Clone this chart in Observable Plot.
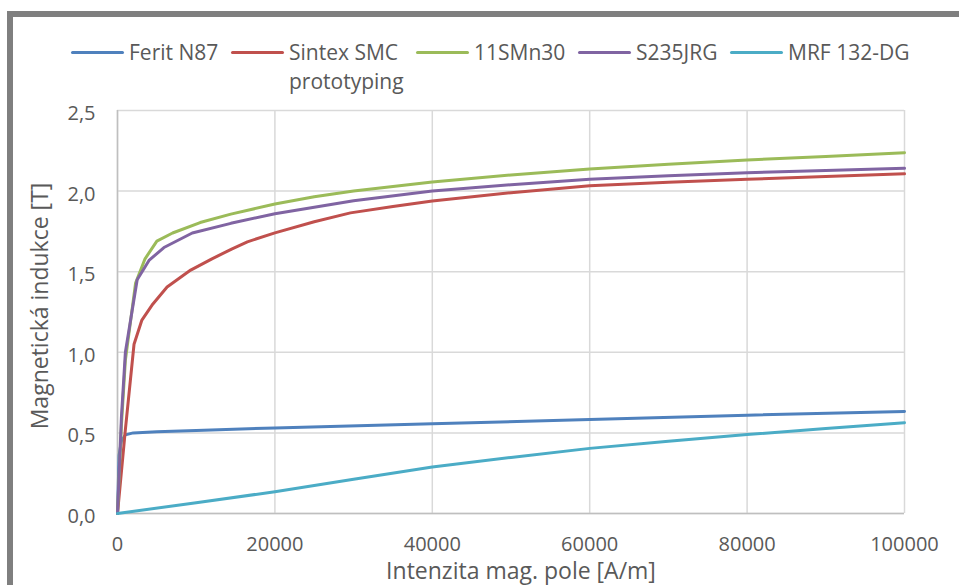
<!DOCTYPE html>
<html>
<head>
<meta charset="utf-8">
<script src="https://cdn.jsdelivr.net/npm/d3@7"></script>
<script src="https://cdn.jsdelivr.net/npm/@observablehq/plot@0.6"></script>
<style>
  html, body { margin: 0; padding: 0; background: #fff; }
  body { width: 959px; height: 585px; overflow: hidden; position: relative; font-family: "Open Sans", sans-serif; }
  #frame { position: absolute; left: 7px; top: 11px; width: 1100px; height: 800px; border: 6px solid #7f7f7f; box-sizing: border-box; }
  #chart { position: absolute; left: 0; top: 0; }
  #chart g[aria-label$="tick label"] { font-size: 20px; }
  #legend { position: absolute; left: 71px; top: 38px; display: flex; gap: 12px; align-items: flex-start; }
  .item { display: flex; align-items: flex-start; }
  .sw { width: 53px; height: 3px; border-radius: 2px; margin-top: 13px; margin-right: 5px; flex: none; }
  .lab { font-size: 21px; line-height: 29px; color: #595959; max-width: 130px; }
</style>
</head>
<body>
<div id="frame"></div>
<div id="chart"></div>
<div id="legend"></div>
<script>
// ---- data ----
const seriesNames = ["Ferit N87", "Sintex SMC prototyping", "11SMn30", "S235JRG", "MRF 132-DG"];
const seriesColors = ["#4f81bd", "#c0504d", "#9bbb59", "#8064a2", "#4bacc6"];

const hFerit = [0, 200, 500, 1000, 2000, 5000, 10000, 20000, 40000, 60000, 80000, 100000];
const bFerit = [0, 0.36, 0.45, 0.488, 0.5, 0.507, 0.515, 0.531, 0.556, 0.583, 0.61, 0.633];

const hSintex = [0, 1000, 2100, 3100, 4500, 6300, 9300, 12000, 14500, 16500, 20000, 25000, 29600, 35000, 40000, 50000, 60000, 70000, 80000, 90000, 100000];
const bSintex = [0, 0.52, 1.05, 1.2, 1.3, 1.405, 1.51, 1.58, 1.64, 1.685, 1.741, 1.81, 1.865, 1.905, 1.938, 1.99, 2.033, 2.055, 2.073, 2.09, 2.107];

const hSMn = [0, 500, 1000, 2300, 3500, 5000, 7000, 10500, 14400, 20000, 25000, 30000, 40000, 50000, 60000, 70000, 80000, 90000, 100000];
const bSMn = [0, 0.55, 0.95, 1.43, 1.58, 1.69, 1.74, 1.805, 1.857, 1.92, 1.965, 2.0, 2.056, 2.1, 2.137, 2.166, 2.193, 2.215, 2.238];

const hS235 = [0, 500, 1000, 2500, 4000, 5900, 9500, 14400, 20000, 30000, 40000, 50000, 60000, 70000, 80000, 90000, 100000];
const bS235 = [0, 0.6, 1.0, 1.45, 1.57, 1.65, 1.74, 1.8, 1.86, 1.94, 2.0, 2.04, 2.073, 2.095, 2.114, 2.128, 2.141];

const hMRF = [0, 10000, 20000, 30000, 40000, 50000, 60000, 70000, 80000, 90000, 100000];
const bMRF = [0, 0.067, 0.135, 0.212, 0.288, 0.348, 0.404, 0.448, 0.49, 0.527, 0.563];

const xTicks = [0, 20000, 40000, 60000, 80000, 100000];
const yTicks = [0, 0.5, 1.0, 1.5, 2.0, 2.5];
const xTitle = "Intenzita mag. pole [A/m]";
const yTitle = "Magnetická indukce [T]";

// ---- build table ----
const hs = [hFerit, hSintex, hSMn, hS235, hMRF];
const bs = [bFerit, bSintex, bSMn, bS235, bMRF];
const rows = [];
seriesNames.forEach((s, i) => hs[i].forEach((h, j) => rows.push({series: s, H: h, B: bs[i][j]})));

const fmtX = d => String(d);
const fmtY = d => d.toFixed(1).replace(".", ",");

const chart = Plot.plot({
  width: 959,
  height: 585,
  marginLeft: 117,
  marginRight: 55,
  marginTop: 110,
  marginBottom: 72,
  style: {fontFamily: "Open Sans", fontSize: "20px", color: "#595959", background: "transparent", overflow: "visible"},
  x: {domain: [0, 100000], ticks: xTicks, tickFormat: fmtX},
  y: {domain: [0, 2.5], ticks: yTicks, tickFormat: fmtY},
  color: {domain: seriesNames, range: seriesColors},
  marks: [
    Plot.gridX(xTicks, {stroke: "#d9d9d9", strokeOpacity: 1, strokeWidth: 1.5}),
    Plot.gridY(yTicks, {stroke: "#d9d9d9", strokeOpacity: 1, strokeWidth: 1.5}),
    Plot.ruleX([0], {stroke: "#bfbfbf", strokeWidth: 1.5}),
    Plot.ruleY([0], {stroke: "#bfbfbf", strokeWidth: 1.5}),
    Plot.axisX(xTicks, {tickSize: 0, tickPadding: 23, label: null, fill: "#595959", tickFormat: fmtX}),
    Plot.axisY(yTicks, {tickSize: 0, tickPadding: 22, label: null, fill: "#595959", tickFormat: fmtY, dy: 3}),
    Plot.line(rows, {x: "H", y: "B", z: "series", stroke: "series", strokeWidth: 3, strokeLinejoin: "round", strokeLinecap: "round"}),
    Plot.text([xTitle], {text: d => d, frameAnchor: "bottom", dx: 10, dy: 58, fontSize: 23, fill: "#595959", lineAnchor: "middle", textAnchor: "middle"}),
    Plot.text([yTitle], {text: d => d, frameAnchor: "left", dx: -77, dy: -6, rotate: -90, fontSize: 23, fill: "#595959", lineAnchor: "middle", textAnchor: "middle"})
  ]
});
document.getElementById("chart").appendChild(chart);

// ---- legend ----
const legend = document.getElementById("legend");
const labs = [];
seriesNames.forEach((s, i) => {
  const item = document.createElement("div");
  item.className = "item";
  const sw = document.createElement("div");
  sw.className = "sw";
  sw.style.background = seriesColors[i];
  const lab = document.createElement("div");
  lab.className = "lab";
  lab.textContent = s;
  item.appendChild(sw);
  item.appendChild(lab);
  legend.appendChild(item);
  labs.push(lab);
});
// shrink wrapped labels to their widest line
labs.forEach(lab => {
  const r = document.createRange();
  r.selectNodeContents(lab);
  const w = Math.max(...Array.from(r.getClientRects()).map(c => c.width));
  lab.style.width = Math.ceil(w) + "px";
});
</script>
</body>
</html>
